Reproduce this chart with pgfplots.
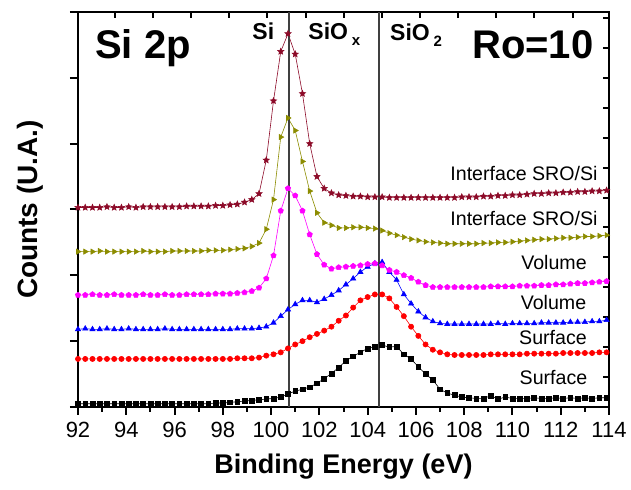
\documentclass[border=0pt]{standalone}
\usepackage{fontspec}
\setmainfont{Liberation Sans}
\usepackage{pgfplots}
\usepackage{pgfplotstable}
\pgfplotsset{compat=1.18}
\usetikzlibrary{plotmarks}

\definecolor{olivey}{RGB}{140,140,0}
\definecolor{wine}{RGB}{140,10,40}
\definecolor{pmag}{RGB}{255,0,255}
\definecolor{pred}{RGB}{255,0,0}
\definecolor{pblue}{RGB}{0,0,255}

% filled five-pointed star
\pgfdeclareplotmark{fstar}{%
  \pgfpathmoveto{\pgfpointpolar{90}{\pgfplotmarksize}}%
  \pgfpathlineto{\pgfpointpolar{126}{0.45\pgfplotmarksize}}%
  \pgfpathlineto{\pgfpointpolar{162}{\pgfplotmarksize}}%
  \pgfpathlineto{\pgfpointpolar{198}{0.45\pgfplotmarksize}}%
  \pgfpathlineto{\pgfpointpolar{234}{\pgfplotmarksize}}%
  \pgfpathlineto{\pgfpointpolar{270}{0.45\pgfplotmarksize}}%
  \pgfpathlineto{\pgfpointpolar{306}{\pgfplotmarksize}}%
  \pgfpathlineto{\pgfpointpolar{342}{0.45\pgfplotmarksize}}%
  \pgfpathlineto{\pgfpointpolar{18}{\pgfplotmarksize}}%
  \pgfpathlineto{\pgfpointpolar{54}{0.45\pgfplotmarksize}}%
  \pgfpathclose
  \pgfusepathqfillstroke}

% E, then the six spectra from bottom to top
\pgfplotstableread{
E     a    b    c    d    e    f
92.0  0.05 0.73 1.18 1.70 2.36 3.03
92.3  0.05 0.73 1.19 1.70 2.36 3.03
92.6  0.05 0.73 1.18 1.71 2.36 3.03
92.9  0.05 0.73 1.18 1.70 2.37 3.03
93.2  0.05 0.73 1.19 1.70 2.36 3.04
93.5  0.05 0.73 1.18 1.71 2.36 3.03
93.8  0.05 0.73 1.18 1.70 2.36 3.03
94.1  0.05 0.73 1.19 1.70 2.36 3.04
94.4  0.05 0.73 1.18 1.70 2.36 3.03
94.7  0.05 0.73 1.18 1.71 2.37 3.04
95.0  0.05 0.73 1.18 1.70 2.36 3.04
95.3  0.05 0.73 1.18 1.70 2.36 3.04
95.6  0.05 0.73 1.19 1.71 2.36 3.04
95.9  0.05 0.73 1.18 1.70 2.37 3.04
96.2  0.05 0.73 1.18 1.70 2.37 3.04
96.5  0.05 0.73 1.18 1.71 2.37 3.05
96.8  0.05 0.73 1.18 1.71 2.37 3.05
97.1  0.05 0.73 1.18 1.71 2.37 3.05
97.4  0.05 0.73 1.18 1.71 2.38 3.05
97.7  0.06 0.73 1.18 1.72 2.38 3.06
98.0  0.06 0.73 1.18 1.72 2.38 3.06
98.3  0.07 0.73 1.18 1.72 2.39 3.07
98.6  0.08 0.74 1.19 1.73 2.40 3.08
98.9  0.09 0.74 1.19 1.74 2.41 3.11
99.2  0.10 0.74 1.19 1.76 2.44 3.15
99.5  0.11 0.75 1.20 1.81 2.49 3.24
99.8  0.12 0.78 1.22 1.95 2.70 3.75
100.1 0.13 0.80 1.28 2.30 3.15 4.65
100.4 0.15 0.83 1.38 2.98 4.10 5.40
100.7 0.20 0.89 1.48 3.32 4.39 5.67
101.0 0.24 0.95 1.56 3.21 4.20 5.36
101.3 0.27 1.00 1.62 2.98 3.73 4.76
101.6 0.30 1.06 1.62 2.62 3.28 4.00
101.9 0.36 1.11 1.59 2.32 2.95 3.50
102.2 0.43 1.16 1.64 2.16 2.80 3.32
102.5 0.51 1.22 1.70 2.10 2.76 3.25
102.8 0.60 1.31 1.77 2.12 2.72 3.22
103.1 0.70 1.39 1.86 2.13 2.72 3.21
103.4 0.77 1.51 1.95 2.14 2.73 3.20
103.7 0.83 1.62 2.05 2.15 2.73 3.20
104.0 0.89 1.67 2.13 2.17 2.72 3.19
104.3 0.92 1.71 2.18 2.18 2.71 3.19
104.6 0.94 1.71 2.20 2.15 2.68 3.19
104.9 0.91 1.65 2.05 2.08 2.64 3.18
105.2 0.92 1.52 1.93 2.05 2.61 3.18
105.5 0.80 1.38 1.71 2.00 2.58 3.18
105.8 0.73 1.22 1.57 1.96 2.55 3.18
106.1 0.61 1.08 1.45 1.90 2.53 3.18
106.4 0.50 0.95 1.36 1.85 2.51 3.18
106.7 0.41 0.87 1.30 1.82 2.50 3.18
107.0 0.27 0.83 1.27 1.82 2.49 3.18
107.3 0.21 0.80 1.26 1.82 2.48 3.18
107.6 0.18 0.79 1.26 1.82 2.48 3.18
107.9 0.15 0.79 1.26 1.82 2.48 3.19
108.2 0.14 0.79 1.26 1.82 2.48 3.19
108.5 0.13 0.79 1.26 1.82 2.48 3.19
108.8 0.13 0.79 1.26 1.82 2.49 3.20
109.1 0.17 0.80 1.26 1.83 2.49 3.20
109.4 0.12 0.80 1.27 1.83 2.50 3.21
109.7 0.15 0.80 1.26 1.83 2.50 3.21
110.0 0.13 0.80 1.27 1.83 2.51 3.22
110.3 0.13 0.80 1.27 1.84 2.52 3.22
110.6 0.13 0.81 1.27 1.84 2.53 3.23
110.9 0.14 0.81 1.27 1.84 2.54 3.24
111.2 0.13 0.81 1.28 1.85 2.55 3.24
111.5 0.13 0.81 1.28 1.85 2.55 3.25
111.8 0.14 0.81 1.28 1.86 2.56 3.25
112.1 0.13 0.82 1.28 1.86 2.57 3.26
112.4 0.14 0.82 1.29 1.87 2.57 3.26
112.7 0.13 0.82 1.29 1.88 2.58 3.27
113.0 0.14 0.82 1.29 1.88 2.59 3.27
113.3 0.13 0.82 1.30 1.89 2.59 3.28
113.6 0.14 0.83 1.30 1.90 2.60 3.28
113.9 0.14 0.83 1.32 1.91 2.61 3.29
}\spectra

\begin{document}
\begin{tikzpicture}
% top and right ticks (different spacing, inside)
\begin{axis}[
    scale only axis, width=265.5pt, height=197.5pt,
    xmin=92, xmax=114, ymin=0, ymax=6,
    xtick={93.53,95.11,96.69,98.27,99.85,101.43,103.01,104.59,106.17,107.75,109.33,110.91,112.49},
    ytick={0.4545,0.9091,1.3636,1.8182,2.2727,2.7273,3.1818,3.6364,4.0909,4.5455,5.0,5.4545,5.9091},
    xticklabels={}, yticklabels={},
    xtick pos=top, ytick pos=right, tick align=inside,
    major tick length=3pt,
    axis line style={line width=1.3pt},
    tick style={black, line width=1pt},
]
\end{axis}
\begin{axis}[
    name=main,
    scale only axis, width=265.5pt, height=197.5pt,
    xmin=92, xmax=114, ymin=0, ymax=6,
    xtick={92,94,...,114}, minor x tick num=1,
    ytick={0,...,6}, yticklabels={},
    xtick pos=bottom, ytick pos=left, tick align=outside,
    major tick length=4pt, minor tick length=2.5pt,
    axis line style={line width=1.3pt},
    tick style={black, line width=1pt},
    tick label style={font=\fontsize{11}{12}\selectfont},
    /pgf/number format/assume math mode=true,
    clip=false,
]
\addplot[black, line width=0.3pt, mark=square*, mark size=1.2pt] table[x=E, y=a] {\spectra};
\addplot[pred, line width=0.3pt, mark=*, mark size=1.3pt] table[x=E, y=b] {\spectra};
\addplot[pblue, line width=0.3pt, mark=triangle*, mark size=1.5pt] table[x=E, y=c] {\spectra};
\addplot[pmag, line width=0.3pt, mark=pentagon*, mark size=1.4pt] table[x=E, y=d] {\spectra};
\addplot[olivey, line width=0.3pt, mark=triangle*, mark size=1.5pt, mark options={rotate=-90}] table[x=E, y=e] {\spectra};
\addplot[wine, line width=0.3pt, mark=fstar, mark size=1.6pt] table[x=E, y=f] {\spectra};

\addplot[black!75, line width=0.8pt] coordinates {(100.74,0) (100.74,6)};
\addplot[black!75, line width=0.8pt] coordinates {(104.47,0) (104.47,6)};

\node[anchor=base west, inner sep=0, font=\bfseries\fontsize{20}{22}\selectfont] at (92.7,5.30) {Si 2p};
\node[anchor=base west, inner sep=0, font=\bfseries\fontsize{20}{22}\selectfont] at (108.32,5.29) {Ro=10};
\node[anchor=base west, inner sep=0, font=\bfseries\fontsize{11.5}{12}\selectfont] at (99.21,5.58) {Si};
\node[anchor=base west, inner sep=0, font=\bfseries\fontsize{11.5}{12}\selectfont] at (101.53,5.58) {SiO\,\raisebox{-3pt}{\fontsize{7.5}{8}\selectfont x}};
\node[anchor=base west, inner sep=0, font=\bfseries\fontsize{11.5}{12}\selectfont] at (104.92,5.56) {SiO\,\raisebox{-3pt}{\fontsize{7.5}{8}\selectfont 2}};

\node[anchor=east, inner sep=0, font=\fontsize{9.8}{11}\selectfont] at (113.54,3.55) {Interface SRO/Si};
\node[anchor=east, inner sep=0, font=\fontsize{9.8}{11}\selectfont] at (113.54,2.86) {Interface SRO/Si};
\node[inner sep=0, font=\fontsize{9.8}{11}\selectfont] at (111.72,2.20) {Volume};
\node[inner sep=0, font=\fontsize{9.8}{11}\selectfont] at (111.70,1.59) {Volume};
\node[inner sep=0, font=\fontsize{9.8}{11}\selectfont] at (111.68,1.06) {Surface};
\node[inner sep=0, font=\fontsize{9.8}{11}\selectfont] at (111.70,0.45) {Surface};
\end{axis}

\path (main.south) ++(0,-30pt) node[font=\bfseries\fontsize{13.5}{15}\selectfont] {Binding Energy (eV)};
\path (main.west) ++(-24pt,0) node[rotate=90, font=\bfseries\fontsize{14}{16}\selectfont] {Counts (U.A.)};

\pgfresetboundingbox
\path ([xshift=-39pt, yshift=-41.5pt]main.south west) rectangle ([xshift=11pt, yshift=6pt]main.north east);
\end{tikzpicture}
\end{document}
